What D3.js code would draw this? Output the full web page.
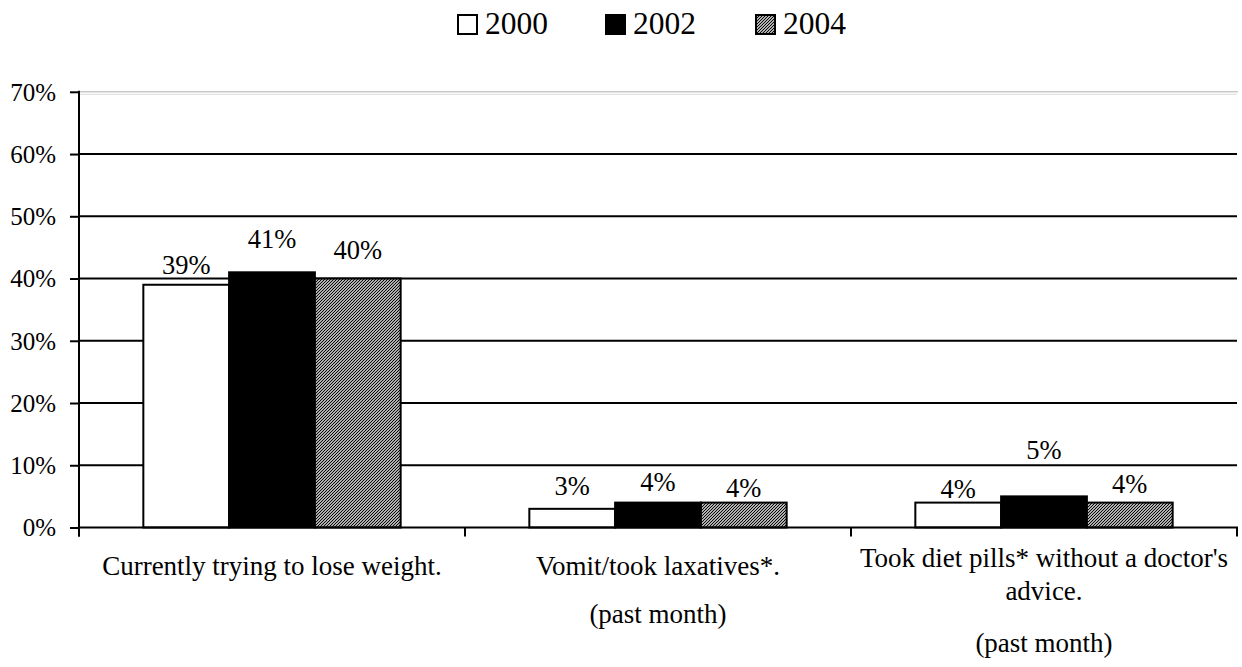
<!DOCTYPE html>
<html>
<head>
<meta charset="utf-8">
<script src="https://cdn.jsdelivr.net/npm/d3@7"></script>
</head>
<body style="margin:0">
<svg id="chart" width="1242" height="667" style="display:block;background:#fff"></svg>
<script>
// ---- data ----
const categories = [
  ["Currently trying to lose weight."],
  ["Vomit/took laxatives*.", "", "(past month)"],
  ["Took diet pills* without a doctor's", "advice.", "", "(past month)"]
];
const seriesNames = ["2000", "2002", "2004"];
const values2000 = [39, 3, 4];
const values2002 = [41, 4, 5];
const values2004 = [40, 4, 4];
const yTicks = [0, 10, 20, 30, 40, 50, 60, 70];

// ---- label nudges (px above bar top), style only ----
const labelLift = [[11, 24, 20], [14, 12, 6], [5, 37, 10]];
const catLabelBaseline = [[575], [575, 0, 623], [567, 600, 0, 652]];

const series = [values2000, values2002, values2004];
const svg = d3.select("#chart");
const FONT = '"Liberation Serif"';
function serif(sel, size) {
  return sel.style("font-family", FONT, "important")
            .style("font-size", size + "px", "important")
            .attr("fill", "#000");
}

const defs = svg.append("defs");
const pat = defs.append("pattern")
  .attr("id", "hatch").attr("patternUnits", "userSpaceOnUse")
  .attr("width", 3).attr("height", 3);
pat.append("rect").attr("width", 3).attr("height", 3).attr("fill", "#fff");
pat.append("path")
  .attr("d", "M-1,1 L1,-1 M0,3 L3,0 M2,4 L4,2")
  .attr("stroke", "#000").attr("stroke-width", 1.2);

const fills = ["#ffffff", "#000000", "url(#hatch)"];

const left = 79, right = 1237;
const y = d3.scaleLinear().domain([0, 70]).range([527.5, 91.8]);
const x0 = d3.scaleBand().domain(d3.range(categories.length)).range([left, right]).padding(0);
const bw = x0.bandwidth();
const barW = bw / 4.5;
const x1 = d3.scaleBand().domain(d3.range(series.length))
  .range([barW * 0.75, bw - barW * 0.75]).padding(0);

// top border (gray double line at 70%)
svg.append("line").attr("x1", left).attr("x2", right + 1)
  .attr("y1", y(70)).attr("y2", y(70)).attr("stroke", "#b0b0b0").attr("stroke-width", 1);
svg.append("line").attr("x1", left).attr("x2", right)
  .attr("y1", y(70) + 2.5).attr("y2", y(70) + 2.5).attr("stroke", "#dddddd").attr("stroke-width", 1);

// gridlines
svg.append("g").selectAll("line")
  .data(yTicks.filter(t => t > 0 && t < 70))
  .join("line")
  .attr("x1", left).attr("x2", right)
  .attr("y1", d => y(d)).attr("y2", d => y(d))
  .attr("stroke", "#000").attr("stroke-width", 2);

// bars
const groups = svg.append("g").selectAll("g")
  .data(categories.map((c, i) => i))
  .join("g")
  .attr("transform", i => `translate(${x0(i)},0)`);

groups.selectAll("rect")
  .data(i => series.map((s, k) => ({ k, v: s[i], i })))
  .join("rect")
  .attr("x", d => x1(d.k))
  .attr("width", x1.bandwidth())
  .attr("y", d => y(d.v))
  .attr("height", d => y(0) - y(d.v))
  .attr("fill", d => fills[d.k])
  .attr("stroke", "#000").attr("stroke-width", 2);

serif(groups.selectAll("text.val")
  .data(i => series.map((s, k) => ({ k, v: s[i], i })))
  .join("text")
  .attr("class", "val")
  .attr("x", d => x1(d.k) + x1.bandwidth() / 2)
  .attr("y", d => y(d.v) - labelLift[d.i][d.k])
  .attr("text-anchor", "middle"), 26.5)
  .text(d => d.v + "%");

// y axis
const yAxis = d3.axisLeft(y).tickValues(yTicks).tickSize(9).tickFormat(d => d + "%");
const yg = svg.append("g").attr("transform", `translate(${left},0)`).call(yAxis)
  .attr("font-family", null).attr("font-size", null);
yg.select(".domain").remove();
yg.selectAll(".tick line").attr("stroke", "#000").attr("stroke-width", 2);
serif(yg.selectAll(".tick text"), 25).attr("x", -23).attr("dy", "0.33em");
svg.append("line").attr("x1", left).attr("x2", left)
  .attr("y1", y(70) - 1).attr("y2", y(0) + 9)
  .attr("stroke", "#000").attr("stroke-width", 2);

// x axis
svg.append("line").attr("x1", left).attr("x2", right + 1)
  .attr("y1", y(0)).attr("y2", y(0)).attr("stroke", "#000").attr("stroke-width", 2);
const xt = d3.range(categories.length + 1).map(i => left + i * bw);
svg.append("g").selectAll("line").data(xt).join("line")
  .attr("x1", d => d).attr("x2", d => d)
  .attr("y1", y(0)).attr("y2", y(0) + 9)
  .attr("stroke", "#000").attr("stroke-width", 2);

// category labels
categories.forEach((lines, i) => {
  lines.forEach((t, j) => {
    if (!t) return;
    serif(svg.append("text")
      .attr("x", x0(i) + bw / 2)
      .attr("y", catLabelBaseline[i][j])
      .attr("text-anchor", "middle"), 27)
      .text(t);
  });
});

// legend
const legendX = [457, 605, 755];
const lg = svg.append("g").selectAll("g").data(seriesNames).join("g")
  .attr("transform", (d, k) => `translate(${legendX[k]},14)`);
lg.append("rect").attr("x", 1).attr("y", 1).attr("width", 19).attr("height", 19)
  .attr("fill", (d, k) => fills[k]).attr("stroke", "#000").attr("stroke-width", 2);
serif(lg.append("text").attr("x", 28).attr("y", 20), 31.5).text(d => d);
</script>
</body>
</html>
